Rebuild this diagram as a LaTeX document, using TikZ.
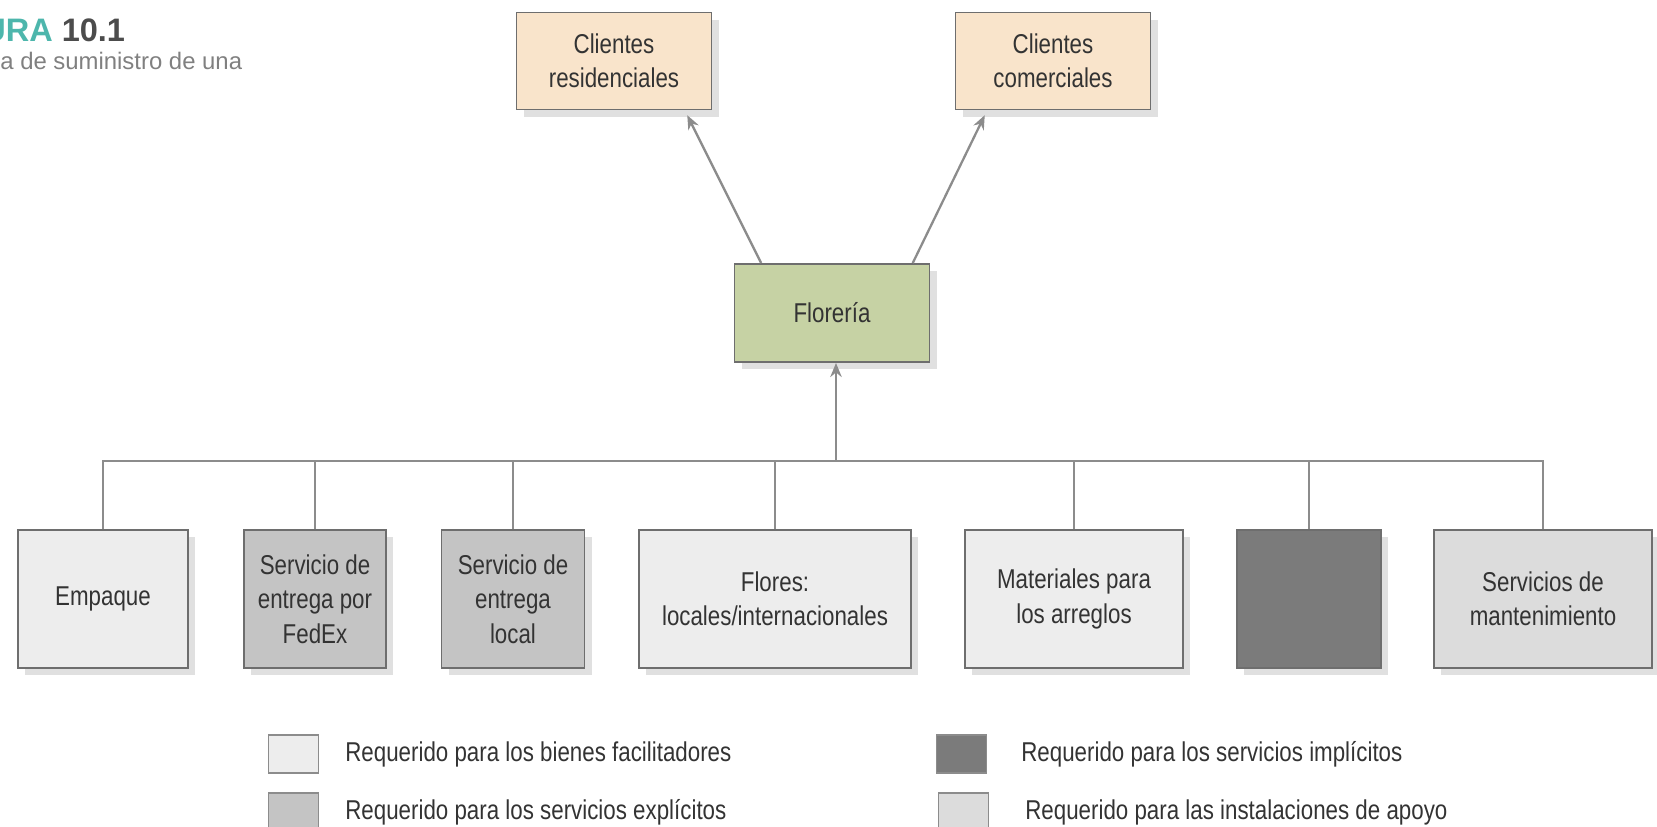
\documentclass[tikz,border=0pt]{standalone}
\usepackage{fontspec}
\setmainfont{Liberation Sans}[FakeStretch=0.82]
\newfontfamily\capfont{Liberation Sans}
\usetikzlibrary{arrows.meta,calc,shadows}
\definecolor{linegray}{HTML}{8C8C8C}
\definecolor{edgegray}{HTML}{6E6E6E}
\definecolor{peach}{HTML}{F9E4CB}
\definecolor{sage}{HTML}{C6D2A4}
\definecolor{facil}{HTML}{EDEDED}
\definecolor{explic}{HTML}{C4C4C4}
\definecolor{implic}{HTML}{7B7B7B}
\definecolor{apoyo}{HTML}{DCDCDC}
\definecolor{titleteal}{HTML}{4DB6AC}
\begin{document}
\begin{tikzpicture}[x=0.02cm,y=-0.02cm, every node/.style={font=\fontsize{15.5}{19.5}\selectfont, align=center, text=black!80},
    box/.style={draw=edgegray, line width=1.1pt, minimum height=2.76cm, drop shadow={shadow xshift=4pt, shadow yshift=-4pt, opacity=0.12, fill=black}},
    link/.style={draw=linegray, line width=1.3pt},
    tip/.style={link, -{Stealth[length=8pt,width=6.5pt]}}]
    \useasboundingbox (0,0) rectangle (1657,826);
    % title (cut at the left edge)
    \node[anchor=west, inner sep=0, font=\capfont\bfseries\fontsize{18.5}{22}\selectfont, text=black!70] (fig) at (-18,30) {\textcolor{titleteal}{URA} 10.1};
    \node[anchor=west, inner sep=0, font=\capfont\fontsize{13.6}{17}\selectfont, text=black!50] (cap) at (0,61) {a de suministro de una};
    % clients and shop
    \node[box, fill=peach, minimum width=3.9cm, minimum height=1.94cm] (res) at (614,61) {Clientes\\residenciales};
    \node[box, fill=peach, minimum width=3.9cm, minimum height=1.94cm] (com) at (1053,61) {Clientes\\comerciales};
    \node[box, fill=sage, minimum width=3.9cm, minimum height=1.96cm] (flor) at (832,313) {Florería};
    % suppliers
    \foreach \name/\cx/\w/\col/\txt in {emp/103/3.4/facil/Empaque, fedex/315/2.84/explic/{Servicio de\\entrega por\\FedEx}, local/513/2.86/explic/{Servicio de\\entrega\\local}, flores/775/5.44/facil/{Flores:\\locales/internacionales}, mat/1074/4.36/facil/{Materiales para\\los arreglos}, dark/1309/2.88/implic/{}, mant/1543/4.36/apoyo/{Servicios de\\mantenimiento}}
        \node[box, fill=\col, minimum width=\w cm] (\name) at (\cx,599) {\txt};
    \coordinate (hub) at (836,461);
    \draw[link] (emp.north) -- (emp.north |- hub) -- (mant.north |- hub) -- (mant.north);
    \foreach \name in {fedex,local,flores,mat,dark} \draw[link] (\name.north) -- (\name.north |- hub);
    \draw[tip] (hub) -- (hub |- flor.south);
    \draw[tip, shorten >=3pt] ($(flor.north west)!0.14!(flor.north east)$) -- ($(res.south west)!0.86!(res.south east)$);
    \draw[tip, shorten >=3pt] ($(flor.north west)!0.91!(flor.north east)$) -- ($(com.south west)!0.165!(com.south east)$);
    % legend
    \foreach \lx/\ly/\tx/\col/\txt in {268/754/345/facil/Requerido para los bienes facilitadores, 268/812/345/explic/Requerido para los servicios explícitos, 936/754/1021/implic/Requerido para los servicios implícitos, 938/812/1025/apoyo/Requerido para las instalaciones de apoyo} {
        \node[draw=linegray, line width=0.8pt, fill=\col, minimum width=1cm, minimum height=0.76cm, anchor=west, inner sep=0] (key\col) at (\lx,\ly) {};
        \node[anchor=west, inner sep=0] (lab\col) at (\tx,\ly) {\txt};
    }
\end{tikzpicture}
\end{document}
